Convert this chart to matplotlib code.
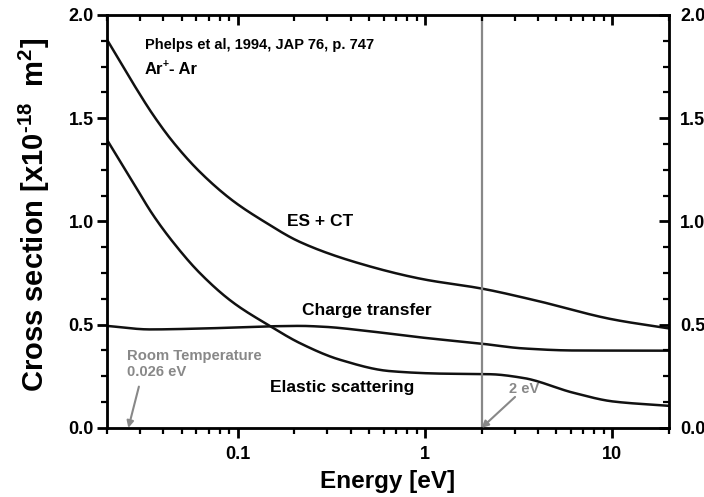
import numpy as np
import matplotlib
matplotlib.use('Agg')
import matplotlib.pyplot as plt
from matplotlib.ticker import MultipleLocator, LogLocator, NullFormatter, FixedLocator

plt.rcParams['font.family'] = 'Liberation Sans'
plt.rcParams['font.weight'] = 'bold'
plt.rcParams['mathtext.fontset'] = 'custom'
plt.rcParams['mathtext.rm'] = 'Liberation Sans:bold'
plt.rcParams['mathtext.it'] = 'Liberation Sans:bold'
plt.rcParams['mathtext.bf'] = 'Liberation Sans:bold'
plt.rcParams['mathtext.default'] = 'rm'

# values (energy in eV, cross section in 1e-18 m^2)
es_ct_E = [0.02, 0.0275, 0.035, 0.045, 0.0626, 0.094, 0.136, 0.215, 0.433, 0.975, 2.0, 3.78, 10.1, 20]
es_ct_S = [1.88, 1.67, 1.52, 1.385, 1.24, 1.10, 1.003, 0.90, 0.80, 0.72, 0.675, 0.62, 0.525, 0.482]

ct_E = [0.02, 0.034, 0.0626, 0.148, 0.215, 0.285, 0.527, 0.975, 2.04, 3.34, 6.2, 20]
ct_S = [0.494, 0.477, 0.481, 0.492, 0.494, 0.490, 0.466, 0.437, 0.407, 0.385, 0.375, 0.374]

el_E = [0.02, 0.0275, 0.035, 0.045, 0.0626, 0.094, 0.148, 0.215, 0.351, 0.65, 1.2, 2.23, 3.34, 6.2, 10.1, 20]
el_S = [1.395, 1.19, 1.035, 0.90, 0.75, 0.608, 0.494, 0.41, 0.33, 0.275, 0.263, 0.26, 0.242, 0.17, 0.128, 0.107]

room_T = 0.026
marker_E = 2.0


def pchip(x, y, n=400):
    # monotone cubic through the read points, in log(E)
    x = np.log10(np.asarray(x, float))
    y = np.asarray(y, float)
    h = np.diff(x)
    d = np.diff(y) / h
    m = np.zeros_like(y)
    m[0], m[-1] = d[0], d[-1]
    for k in range(1, len(x) - 1):
        if d[k - 1] * d[k] > 0:
            w1 = 2 * h[k] + h[k - 1]
            w2 = h[k] + 2 * h[k - 1]
            m[k] = (w1 + w2) / (w1 / d[k - 1] + w2 / d[k])
    xs = np.linspace(x[0], x[-1], n)
    i = np.clip(np.searchsorted(x, xs) - 1, 0, len(x) - 2)
    t = (xs - x[i]) / h[i]
    h00 = 2 * t**3 - 3 * t**2 + 1
    h10 = t**3 - 2 * t**2 + t
    h01 = -2 * t**3 + 3 * t**2
    h11 = t**3 - t**2
    ys = h00 * y[i] + h10 * h[i] * m[i] + h01 * y[i + 1] + h11 * h[i] * m[i + 1]
    return 10 ** xs, ys


fig = plt.figure(figsize=(7.04, 4.97), dpi=100)
ax = fig.add_axes([0.152, 0.139, 0.798, 0.831])

for E, S in [(es_ct_E, es_ct_S), (ct_E, ct_S), (el_E, el_S)]:
    xs, ys = pchip(E, S)
    ax.plot(xs, ys, color='#111111', lw=1.8)

ax.axvline(marker_E, color='#888888', lw=1.6)

ax.set_xscale('log')
ax.set_xlim(0.02, 20)
ax.set_ylim(0, 2.0)
ax.xaxis.set_major_locator(FixedLocator([0.1, 1, 10]))
ax.set_xticklabels(['0.1', '1', '10'])
ax.xaxis.set_minor_locator(LogLocator(base=10, subs=np.arange(2, 10)))
ax.xaxis.set_minor_formatter(NullFormatter())
ax.yaxis.set_major_locator(MultipleLocator(0.5))
ax.yaxis.set_minor_locator(MultipleLocator(0.125))
ax.yaxis.set_major_formatter(plt.FuncFormatter(lambda v, p: f'{v:.1f}'))

for s in ax.spines.values():
    s.set_linewidth(2)
ax.tick_params(which='major', direction='out', length=7, width=2, labelsize=13, pad=2.5)
ax.tick_params(which='minor', direction='out', length=4, width=1.6)
ax.tick_params(axis='x', which='major', pad=6)

# right and top axes with inward ticks
axr = ax.twinx()
axr.set_ylim(0, 2.0)
axr.yaxis.set_major_locator(MultipleLocator(0.5))
axr.yaxis.set_minor_locator(MultipleLocator(0.125))
axr.yaxis.set_major_formatter(plt.FuncFormatter(lambda v, p: f'{v:.1f}'))
axr.tick_params(which='major', direction='in', length=7, width=2, labelsize=13, pad=8)
axr.tick_params(which='minor', direction='in', length=4, width=1.6)

axt = ax.twiny()
axt.set_xscale('log')
axt.set_xlim(0.02, 20)
axt.xaxis.set_major_locator(FixedLocator([0.1, 1, 10]))
axt.xaxis.set_minor_locator(LogLocator(base=10, subs=np.arange(2, 10)))
axt.xaxis.set_major_formatter(NullFormatter())
axt.xaxis.set_minor_formatter(NullFormatter())
axt.tick_params(which='major', direction='in', length=7, width=2)
axt.tick_params(which='minor', direction='in', length=4, width=1.6)

ax.set_xlabel('Energy [eV]', fontsize=17.5, fontweight='bold', labelpad=5)
ax.set_ylabel(r'Cross section [x10$^{\text{-18}}$  m$^{2}$]', fontsize=21, fontweight='bold')
ax.yaxis.set_label_coords(-0.098, 0.515)

ax.text(0.0318, 1.855, 'Phelps et al, 1994, JAP 76, p. 747', fontsize=10.5, fontweight='bold', va='center')
# Ar+ - Ar built from pieces so the superscript sits tight
ax.text(0.0318, 1.734, 'Ar', fontsize=12, fontweight='bold', va='center')
ax.annotate('+', xy=(0.0318, 1.734), xytext=(13.2, 4.5), textcoords='offset points',
            fontsize=7.5, fontweight='bold', va='center')
ax.annotate('- Ar', xy=(0.0318, 1.734), xytext=(17.5, 0), textcoords='offset points',
            fontsize=12, fontweight='bold', va='center')

ax.text(0.275, 0.998, 'ES + CT', fontsize=12.5, fontweight='bold', ha='center', va='center')
ax.text(0.49, 0.571, 'Charge transfer', fontsize=12.5, fontweight='bold', ha='center', va='center')
ax.text(0.36, 0.194, 'Elastic scattering', fontsize=12.5, fontweight='bold', ha='center', va='center')

gray = '#888888'
ax.text(0.0255, 0.31, 'Room Temperature\n0.026 eV', fontsize=10.7, fontweight='bold',
        color=gray, va='center', linespacing=1.2)
ax.annotate('', xy=(room_T, 0.0), xytext=(0.0296, 0.20),
            arrowprops=dict(arrowstyle='-|>', color=gray, lw=1.5, mutation_scale=10,
                            shrinkA=0, shrinkB=0))
ax.text(3.38, 0.189, '2 eV', fontsize=10.5, fontweight='bold', color=gray, ha='center', va='center')
ax.annotate('', xy=(marker_E, 0.0), xytext=(3.02, 0.15),
            arrowprops=dict(arrowstyle='-|>', color=gray, lw=1.5, mutation_scale=10,
                            shrinkA=0, shrinkB=0))

fig.savefig('out.png', dpi=100)
